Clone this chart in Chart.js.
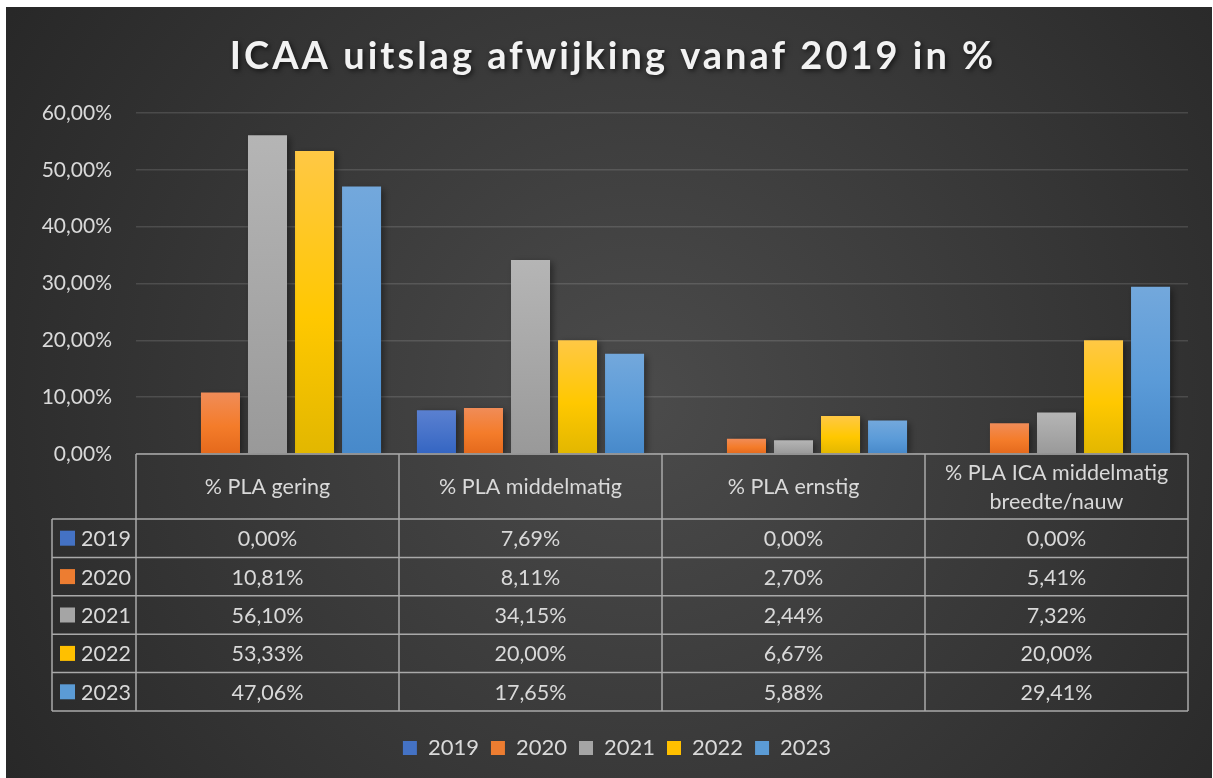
<!DOCTYPE html>
<html>
<head>
<meta charset="utf-8">
<script src="https://cdn.jsdelivr.net/npm/chart.js@4.4.1/dist/chart.umd.min.js"></script>
<style>
  html, body { margin: 0; padding: 0; background: #fff; }
  #wrap { width: 1213px; height: 778px; position: relative; }
</style>
</head>
<body>
<div id="wrap"><canvas id="icaaChart"></canvas></div>
<script>
// data
const categories = ['% PLA gering', '% PLA middelmatig', '% PLA ernstig', ['% PLA ICA middelmatig', 'breedte/nauw']];
const years = ['2019', '2020', '2021', '2022', '2023'];
const v2019 = [0.00, 7.69, 0.00, 0.00];
const v2020 = [10.81, 8.11, 2.70, 5.41];
const v2021 = [56.10, 34.15, 2.44, 7.32];
const v2022 = [53.33, 20.00, 6.67, 20.00];
const v2023 = [47.06, 17.65, 5.88, 29.41];
const yTicks = [0, 10, 20, 30, 40, 50, 60];

const seriesValues = [v2019, v2020, v2021, v2022, v2023];

const baseColors   = ['#4472C4', '#ED7D31', '#A5A5A5', '#FFC000', '#5B9BD5'];
const topColors    = ['#5a80d0', '#f08c58', '#b5b5b5', '#ffc845', '#73a8dc'];
const midColors    = ['#4672c9', '#f47c2a', '#a6a6a6', '#ffc800', '#5b9bd8'];
const bottomColors = ['#3465c2', '#e4691c', '#999999', '#e2b700', '#4789ca'];

const FONT = 'Lato, "Noto Sans", sans-serif';
const TEXT = '#d9d9d9';

function fmt(v) {
  return v.toFixed(2).replace('.', ',') + '%';
}

// per-bar vertical gradient, like the office fill
function barFill(i) {
  return function (c) {
    const chart = c.chart;
    const y = chart.scales && chart.scales.y;
    if (!chart.chartArea || !y || typeof c.raw !== 'number') return baseColors[i];
    const top = y.getPixelForValue(c.raw);
    const bottom = y.getPixelForValue(0);
    if (bottom - top < 1) return baseColors[i];
    const g = chart.ctx.createLinearGradient(0, top, 0, bottom);
    g.addColorStop(0, topColors[i]);
    g.addColorStop(0.55, midColors[i]);
    g.addColorStop(1, bottomColors[i]);
    return g;
  };
}

// ============== plugins ==============
const bgPlugin = {
  id: 'bgPlugin',
  beforeDraw(chart) {
    const ctx = chart.ctx;
    ctx.save();
    ctx.fillStyle = '#ffffff';
    ctx.fillRect(0, 0, chart.width, chart.height);
    const g = ctx.createRadialGradient(640, 400, 0, 640, 400, 760);
    g.addColorStop(0, '#4b4b4b');
    g.addColorStop(1, '#272727');
    ctx.fillStyle = g;
    ctx.fillRect(6, 7, chart.width - 7, chart.height - 7);
    ctx.restore();
  }
};

// legend sits centred under the table, not under the whole canvas
const legendShift = {
  id: 'legendShift',
  afterLayout(chart) {
    if (chart.legend) chart.legend.left += 46;
  }
};

const titlePlugin = {
  id: 'titlePlugin',
  afterDraw(chart) {
    const ctx = chart.ctx;
    ctx.save();
    ctx.font = 'bold 38px ' + FONT;
    ctx.letterSpacing = '3px';
    ctx.textAlign = 'center';
    ctx.textBaseline = 'alphabetic';
    ctx.shadowColor = 'rgba(0,0,0,0.6)';
    ctx.shadowBlur = 5;
    ctx.shadowOffsetX = 2;
    ctx.shadowOffsetY = 2;
    ctx.fillStyle = '#f2f2f2';
    ctx.fillText('ICAA uitslag afwijking vanaf 2019 in %', 613, 69);
    ctx.restore();
  }
};

const barShadow = {
  id: 'barShadow',
  beforeDatasetsDraw(chart) {
    const ctx = chart.ctx;
    ctx.save();
    ctx.shadowColor = 'rgba(0,0,0,0.45)';
    ctx.shadowBlur = 7;
    ctx.shadowOffsetX = 3;
    ctx.shadowOffsetY = 2;
  },
  afterDatasetsDraw(chart) {
    chart.ctx.restore();
  }
};

// data table under the plot
const tablePlugin = {
  id: 'tablePlugin',
  afterDraw(chart) {
    const ctx = chart.ctx;
    const area = chart.chartArea;
    const left = area.left, right = area.right;
    const colW = (right - left) / categories.length;
    const top = area.bottom;
    const headH = 65;
    const rowH = 38.4;
    const labelLeft = 52;
    const bottom = top + headH + rowH * years.length;

    ctx.save();
    ctx.strokeStyle = '#a9a9a9';
    ctx.lineWidth = 1.5;
    ctx.beginPath();
    ctx.moveTo(left, top); ctx.lineTo(right, top);
    for (let r = 0; r <= years.length; r++) {
      const y = top + headH + r * rowH;
      ctx.moveTo(labelLeft, y); ctx.lineTo(right, y);
    }
    ctx.moveTo(labelLeft, top + headH); ctx.lineTo(labelLeft, bottom);
    for (let c = 0; c <= categories.length; c++) {
      const x = left + c * colW;
      ctx.moveTo(x, top); ctx.lineTo(x, bottom);
    }
    ctx.stroke();

    ctx.font = '21.5px ' + FONT;
    ctx.fillStyle = TEXT;
    ctx.textAlign = 'center';
    ctx.textBaseline = 'middle';
    categories.forEach((cat, c) => {
      const cx = left + (c + 0.5) * colW;
      const lines = Array.isArray(cat) ? cat : [cat];
      const lh = 29;
      lines.forEach((ln, k) => {
        ctx.fillText(ln, cx, top + headH / 2 + 1 + (k - (lines.length - 1) / 2) * lh);
      });
    });

    years.forEach((yr, r) => {
      const cy = top + headH + (r + 0.5) * rowH;
      ctx.fillStyle = baseColors[r];
      ctx.fillRect(60, cy - 7.5, 15, 15);
      ctx.fillStyle = TEXT;
      ctx.textAlign = 'left';
      ctx.fillText(yr, 81, cy + 1);
      ctx.textAlign = 'center';
      seriesValues[r].forEach((v, c) => {
        ctx.fillText(fmt(v), left + (c + 0.5) * colW, cy + 1);
      });
    });
    ctx.restore();
  }
};

// ============== chart ==============
const datasets = years.map((yr, i) => ({
  label: yr,
  data: seriesValues[i],
  backgroundColor: barFill(i),
  borderWidth: 0,
  categoryPercentage: 0.894,
  barPercentage: 0.83
}));

new Chart(document.getElementById('icaaChart'), {
  type: 'bar',
  data: {
    labels: categories.map(c => Array.isArray(c) ? c.join(' ') : c),
    datasets
  },
  options: {
    responsive: true,
    maintainAspectRatio: false,
    animation: false,
    layout: { padding: { left: 0, right: 25, top: 113, bottom: 9 } },
    scales: {
      x: {
        grid: { display: false },
        border: { display: false },
        ticks: { display: false },
        afterFit: s => { s.height = 271; }
      },
      y: {
        min: 0,
        max: 60,
        afterBuildTicks: s => { s.ticks = yTicks.map(v => ({ value: v })); },
        afterFit: s => { s.width = 136; },
        grid: { color: 'rgba(255,255,255,0.13)', lineWidth: 1.5, drawTicks: false },
        border: { display: false },
        ticks: {
          color: TEXT,
          padding: 24,
          font: { family: FONT, size: 21 },
          callback: v => fmt(v)
        }
      }
    },
    plugins: {
      legend: {
        position: 'bottom',
        labels: {
          color: TEXT,
          boxWidth: 14,
          boxHeight: 14,
          padding: 12,
          font: { family: FONT, size: 22 },
          generateLabels: chart => years.map((yr, i) => ({
            text: yr,
            fillStyle: baseColors[i],
            strokeStyle: 'rgba(0,0,0,0)',
            lineWidth: 0,
            fontColor: TEXT,
            datasetIndex: i,
            hidden: false
          }))
        }
      },
      tooltip: { enabled: false }
    }
  },
  plugins: [bgPlugin, legendShift, barShadow, tablePlugin, titlePlugin]
});
</script>
</body>
</html>
